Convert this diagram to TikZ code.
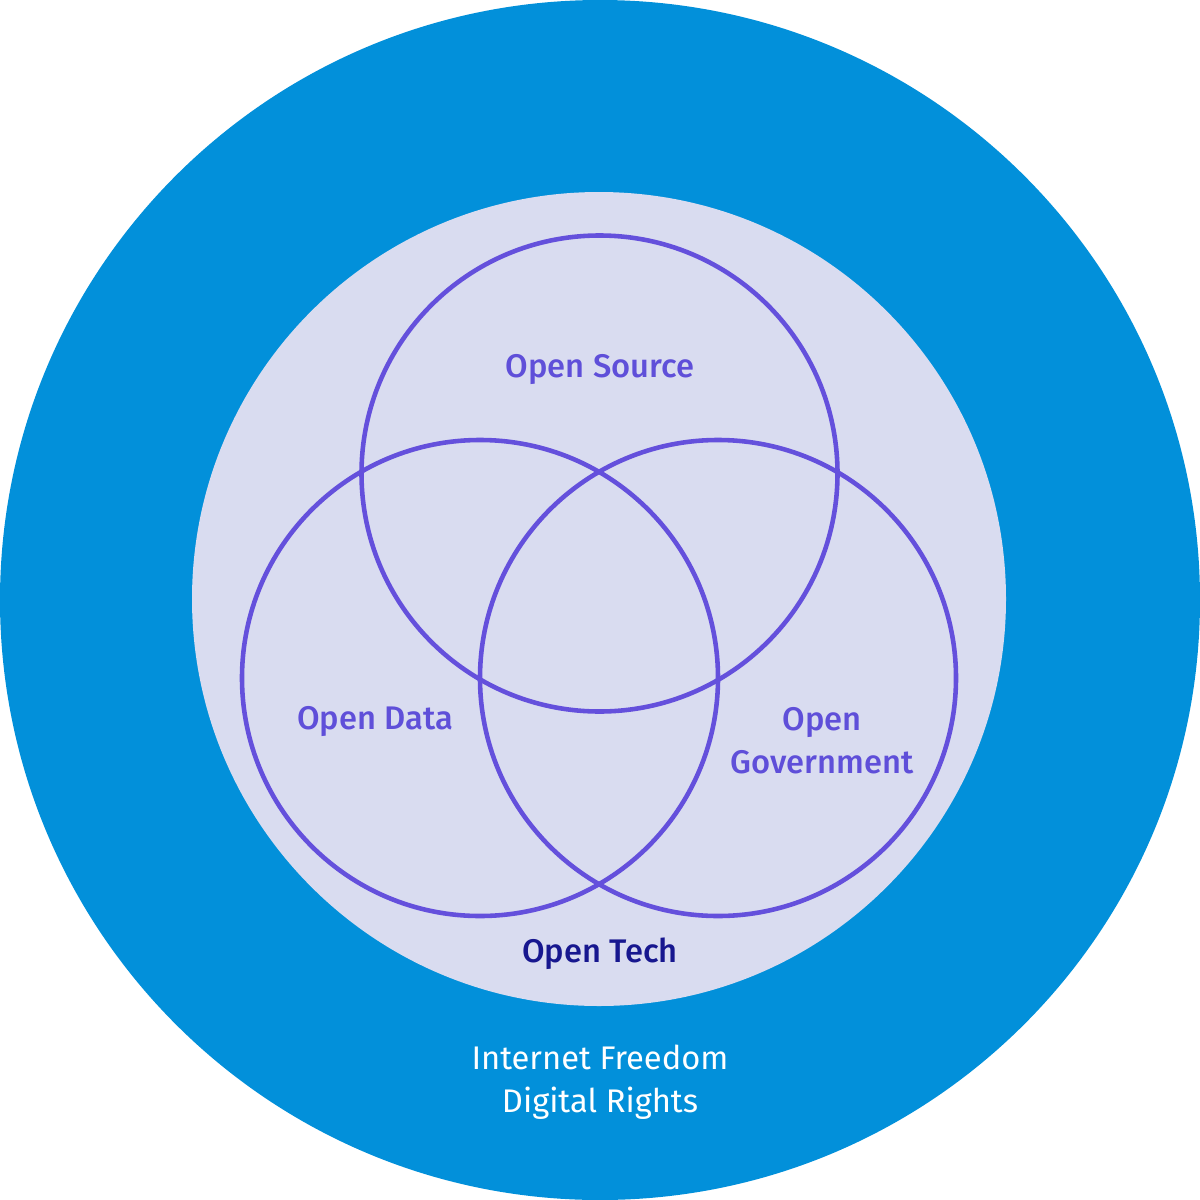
\documentclass[tikz,border=0pt]{standalone}
\usepackage{fontspec}
\setmainfont{Fira Sans}
\newfontfamily\medfont{Fira Sans Medium}
\definecolor{skyblue}{HTML}{0290DA}
\definecolor{paleviolet}{HTML}{D9DCF0}
\definecolor{ringviolet}{HTML}{6450DC}
\definecolor{labelviolet}{HTML}{5F4FD9}
\definecolor{navy}{HTML}{17178F}
\begin{document}
\begin{tikzpicture}[x=0.01cm,y=-0.01cm,
  ring/.style={draw=ringviolet,line width=1.3pt},
  setlabel/.style={text=labelviolet,font=\medfont\fontsize{9.3}{12.2}\selectfont,align=center},
  outerlabel/.style={text=white,font=\fontsize{9.3}{12.2}\selectfont,align=center}]
\useasboundingbox (0,0) rectangle (1200,1200);
% background disks
\fill[skyblue] (600,600) circle[radius=600];
\fill[paleviolet] (599,599) circle[radius=407];
% the three overlapping sets
\draw[ring] (599.5,473.5) circle[radius=238];
\draw[ring] (480,678) circle[radius=238];
\draw[ring] (718,678) circle[radius=238];
% labels
\node[setlabel] (src) at (600,370) {Open Source};
\node[setlabel] (data) at (375,722) {Open Data};
\node[setlabel] (gov) at (822,741) {Open\\Government};
\node[setlabel,text=navy] (tech) at (600,954) {Open Tech};
\node[outerlabel] (free) at (600,1082) {Internet Freedom\\Digital Rights};
\end{tikzpicture}
\end{document}
